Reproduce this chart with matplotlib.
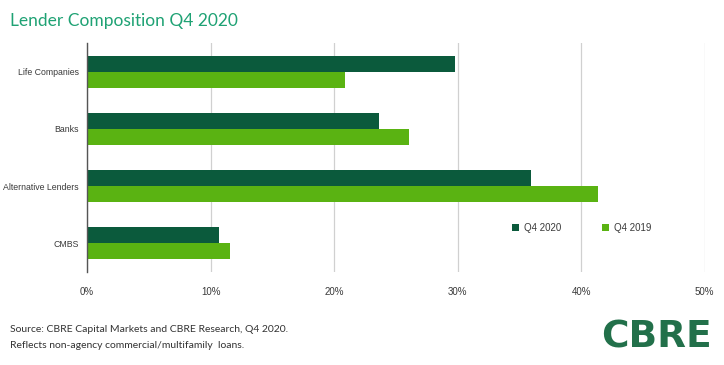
import matplotlib.pyplot as plt
import matplotlib.ticker as mticker
from matplotlib import font_manager
import numpy as np

categories = ['Life Companies', 'Banks', 'Alternative Lenders', 'CMBS']
q4_2020 = [29.8, 23.6, 35.9, 10.7]
q4_2019 = [20.9, 26.1, 41.4, 11.6]
x_ticks = [0, 10, 20, 30, 40, 50]

dark = '#0b5a3c'
light = '#5ab312'
label_grey = '#3a3a3a'


def pick_font():
    # the original uses a condensed face; take the narrowest one we have
    for name in ['Liberation Sans Narrow', 'DejaVu Sans Condensed', 'Liberation Sans']:
        try:
            font_manager.findfont(font_manager.FontProperties(family=name),
                                  fallback_to_default=False)
            return name
        except ValueError:
            continue
    return 'DejaVu Sans'


def fit_size(fig, text, family, width_px, max_size=8.0):
    # shrink until the longest label is as wide as in the original
    r = fig.canvas.get_renderer()
    t = fig.text(0, 0, text, family=family, fontsize=10)
    w = t.get_window_extent(renderer=r).width
    t.remove()
    return min(max_size, 10 * width_px / w)


def main():
    narrow = pick_font()

    fig = plt.figure(figsize=(7.24, 3.65), dpi=100, facecolor='white')
    lab_size = fit_size(fig, 'Alternative Lenders', narrow, 76)
    tick_size = 7.0

    ax = fig.add_axes([0.1202, 0.2548, 0.8532, 0.6274])

    y = np.arange(len(categories))
    h = 0.28
    b20 = ax.barh(y - h / 2, q4_2020, height=h, color=dark, label='Q4 2020', zorder=3)
    b19 = ax.barh(y + h / 2, q4_2019, height=h, color=light, label='Q4 2019', zorder=3)

    ax.set_ylim(len(categories) - 0.5, -0.5)
    ax.set_xlim(0, 50)
    ax.set_yticks(y)
    ax.set_yticklabels(categories, family=narrow, fontsize=lab_size, color=label_grey)
    ax.set_xticks(x_ticks)
    ax.xaxis.set_major_formatter(mticker.FuncFormatter(lambda v, p: '{:.0f}%'.format(v)))
    for lab in ax.get_xticklabels():
        lab.set_family(narrow)
        lab.set_fontsize(tick_size)
        lab.set_color(label_grey)
    ax.tick_params(axis='both', length=0)
    ax.tick_params(axis='x', pad=11)
    ax.tick_params(axis='y', pad=6)

    ax.grid(axis='x', color='#d0d0d0', lw=0.9, zorder=0)
    for s in ['top', 'right', 'bottom']:
        ax.spines[s].set_visible(False)
    ax.spines['left'].set_color('#555555')
    ax.spines['left'].set_linewidth(1.0)
    ax.spines['left'].set_zorder(4)

    # two single-entry legends so each key sits where the original has it
    for handle, xpos in [(b20, 512), (b19, 602)]:
        leg = fig.legend(
            handles=[handle],
            loc='center left',
            bbox_to_anchor=(xpos / 724, 1 - 228 / 365),
            frameon=False,
            borderpad=0,
            borderaxespad=0,
            handlelength=0.75,
            handleheight=0.75,
            handletextpad=0.45,
            prop={'family': narrow, 'size': tick_size},
        )
        for t in leg.get_texts():
            t.set_color(label_grey)

    fig.text(10 / 724, 1 - 21 / 365, 'Lender Composition Q4 2020',
             fontsize=12.5, color='#1fa274', family='Lato',
             ha='left', va='center')

    fig.text(10 / 724, 1 - 330 / 365,
             'Source: CBRE Capital Markets and CBRE Research, Q4 2020.',
             fontsize=7.5, color='#333333', family='Lato', ha='left', va='center')
    fig.text(10 / 724, 1 - 345 / 365,
             'Reflects non-agency commercial/multifamily  loans.',
             fontsize=7.5, color='#333333', family='Lato', ha='left', va='center')

    fig.text(712 / 724, 1 - 348 / 365, 'CBRE', fontsize=27, fontweight='bold',
             color='#22704a', family='DejaVu Sans', ha='right', va='baseline')

    fig.savefig('out.png', dpi=100, facecolor='white')


if __name__ == '__main__':
    main()
